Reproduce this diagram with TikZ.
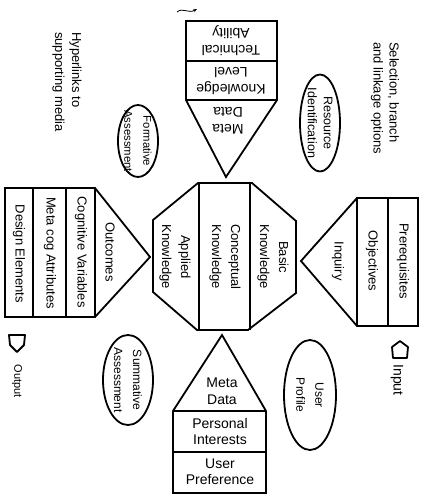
\documentclass[tikz,border=0pt]{standalone}
\usepackage{fontspec}
\setmainfont{Liberation Sans}
\usetikzlibrary{shapes.geometric,arrows.meta}
\begin{document}
\begin{tikzpicture}[x=1pt,y=-1pt,
  outline/.style={draw=black,line width=1.8pt,line join=miter},
  divider/.style={draw=black,line width=1.4pt},
  vt/.style={rotate=-90,align=center,inner sep=0pt,font=\fontsize{13}{19}\selectfont},
  et/.style={rotate=-90,align=center,inner sep=0pt,font=\fontsize{12}{19}\selectfont},
  ht/.style={align=center,inner sep=0pt,font=\fontsize{14}{17}\selectfont},
  ell/.style={ellipse,draw=black,line width=1.8pt,inner sep=0pt},
  icon/.style={draw=black,line width=1.8pt,line join=round}]
\useasboundingbox (0,0) rectangle (424,501);
\fill[white] (0,0) rectangle (424,501);

% central octagon
\draw[outline] (153,220) -- (198,183) -- (252,183) -- (296,221) -- (296,293) -- (248,330) -- (197,330) -- (153,292) -- cycle;
\draw[divider] (199,183) -- (199,330);
\draw[divider] (250,183) -- (250,330);
\node[vt] (applied) at (175,257) {Applied\\Knowledge};
\node[vt] (concept) at (225,257) {Conceptual\\Knowledge};
\node[vt] (basic) at (273,257) {Basic\\Knowledge};

% top pentagon (upside down)
\draw[outline] (186,21) -- (277,21) -- (277,100) -- (226,177) -- (186,100) -- cycle;
\draw[divider] (186,61) -- (277,61);
\draw[divider] (186,100) -- (277,100);
\node[ht,rotate=180] (tech) at (231,41) {Technical\\Ability};
\node[ht,rotate=180] (klevel) at (231,81) {Knowledge\\Level};
\node[ht,rotate=180] (meta1) at (228,121) {Meta\\Data};
\draw[-{Stealth[length=4pt]},line width=0.8pt] (177,12) .. controls (183,7) and (188,14) .. (197,9);

% bottom pentagon
\draw[outline] (222,335) -- (266,411) -- (266,493) -- (173,493) -- (173,411) -- cycle;
\draw[divider] (173,411) -- (266,411);
\draw[divider] (173,452) -- (266,452);
\node[ht] (meta2) at (222,391) {Meta\\Data};
\node[ht,font=\fontsize{14}{16}\selectfont] (personal) at (220,431) {Personal\\Interests};
\node[ht,font=\fontsize{14}{16}\selectfont] (userpref) at (220,472) {User\\Preference};

% right pentagon
\draw[outline] (301,261) -- (357,198) -- (418,198) -- (418,326) -- (357,326) -- cycle;
\draw[divider] (357,198) -- (357,326);
\draw[divider] (388,198) -- (388,326);
\node[vt] (inquiry) at (338,261) {Inquiry};
\node[vt] (obj) at (372,261) {Objectives};
\node[vt] (prereq) at (403,261) {Prerequisites};

% left pentagon
\draw[outline] (5,188) -- (95,188) -- (150,257) -- (95,317) -- (5,317) -- cycle;
\draw[divider] (33,188) -- (33,317);
\draw[divider] (66,188) -- (66,317);
\draw[divider] (95,188) -- (95,317);
\node[vt] (design) at (19,254) {Design Elements};
\node[vt] (metacog) at (50,253) {Meta cog Attributes};
\node[vt] (cogvar) at (81,252) {Cognitive Variables};
\node[vt] (outcomes) at (110,252) {Outcomes};

% ellipses
\node[ell,minimum width=40pt,minimum height=72pt] (formE) at (138,141) {};
\node[et,font=\fontsize{11.3}{19}\selectfont] (form) at (formE) {Formative\\Assessment};
\node[ell,minimum width=40pt,minimum height=97pt] (resE) at (320,123) {};
\node[et,font=\fontsize{12.5}{16}\selectfont] (res) at (resE) {Resource\\Identification};
\node[ell,minimum width=50pt,minimum height=90pt] (sumE) at (128,380) {};
\node[et] (sum) at (sumE) {Summative\\Assessment};
\node[ell,minimum width=52pt,minimum height=110pt] (upE) at (310,395) {};
\node[et] (up) at (upE) {User\\Profile};

% free labels
\node[vt,anchor=west,align=left,font=\fontsize{13}{17}\selectfont] (hyper) at (67,32) {Hyperlinks to\\supporting media};
\node[vt,anchor=west,align=left,font=\fontsize{13}{16}\selectfont] (select) at (385,42) {Selection, branch\\and linkage options};

% input / output icons
\draw[icon] (400,341) -- (408,347) -- (407,358) -- (393,358) -- (392,347) -- cycle;
\node[vt,font=\fontsize{14}{16}\selectfont] (input) at (397,380) {Input};
\draw[icon] (9,335) -- (25,335) -- (24,345) -- (17,352) -- (10,345) -- cycle;
\node[vt,font=\fontsize{11}{13}\selectfont] (output) at (17,381) {Output};
\end{tikzpicture}
\end{document}
